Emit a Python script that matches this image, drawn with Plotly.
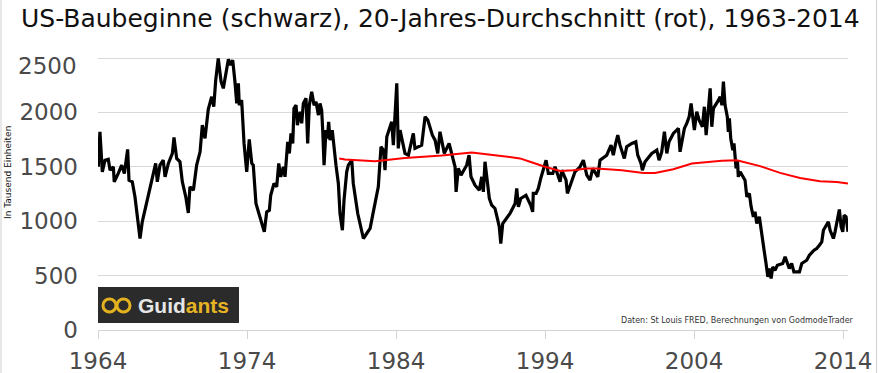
import plotly.graph_objects as go

# US housing starts (thousand units)
starts_year = [
    1964.02, 1964.13, 1964.29, 1964.47, 1964.69, 1964.81, 1965.03, 1965.09, 1965.36, 1965.59,
    1965.77, 1965.99, 1966.08, 1966.30, 1966.48, 1966.60, 1966.82, 1966.97, 1967.20, 1967.38,
    1967.64, 1967.87, 1967.98, 1968.16, 1968.38, 1968.50, 1968.72, 1968.99, 1969.10, 1969.28,
    1969.50, 1969.66, 1969.89, 1970.06, 1970.17, 1970.40, 1970.62, 1970.85, 1971.00, 1971.18,
    1971.40, 1971.63, 1971.77, 1971.90, 1972.07, 1972.26, 1972.41, 1972.75, 1972.91, 1973.04,
    1973.19, 1973.31, 1973.42, 1973.48, 1973.64, 1973.80, 1973.98, 1974.15, 1974.32, 1974.42,
    1974.60, 1974.83, 1974.99, 1975.16, 1975.32, 1975.50, 1975.59, 1975.81, 1975.99, 1976.13,
    1976.26, 1976.44, 1976.55, 1976.73, 1976.84, 1976.95, 1977.07, 1977.15, 1977.29, 1977.38,
    1977.56, 1977.67, 1977.78, 1977.96, 1978.07, 1978.18, 1978.34, 1978.50, 1978.63, 1978.79,
    1978.90, 1979.01, 1979.08, 1979.17, 1979.30, 1979.39, 1979.48, 1979.57, 1979.72, 1979.84,
    1979.97, 1980.13, 1980.24, 1980.40, 1980.51, 1980.69, 1980.80, 1981.03, 1981.13, 1981.43,
    1981.58, 1981.81, 1982.03, 1982.26, 1982.41, 1982.59, 1982.81, 1982.99, 1983.15, 1983.26,
    1983.38, 1983.71, 1983.82, 1984.05, 1984.15, 1984.27, 1984.60, 1984.83, 1985.05, 1985.16,
    1985.27, 1985.72, 1985.95, 1986.13, 1986.44, 1986.62, 1986.80, 1986.95, 1987.24, 1987.56,
    1987.96, 1988.03, 1988.18, 1988.36, 1988.74, 1988.90, 1989.03, 1989.30, 1989.59, 1989.75,
    1989.86, 1989.97, 1990.13, 1990.26, 1990.42, 1990.64, 1990.80, 1990.93, 1991.03, 1991.16,
    1991.32, 1991.47, 1991.65, 1991.99, 1992.10, 1992.21, 1992.37, 1992.72, 1993.04, 1993.17,
    1993.21, 1993.40, 1993.55, 1993.71, 1993.85, 1994.07, 1994.22, 1994.52, 1994.67, 1995.01,
    1995.12, 1995.41, 1995.50, 1995.68, 1995.86, 1996.01, 1996.35, 1996.57, 1996.80, 1997.02,
    1997.20, 1997.42, 1997.54, 1997.69, 1998.14, 1998.43, 1998.58, 1998.74, 1998.88, 1999.03,
    1999.32, 1999.48, 1999.82, 2000.09, 2000.22, 2000.44, 2000.53, 2000.71, 2001.16, 2001.50,
    2001.65, 2001.83, 2002.01, 2002.17, 2002.32, 2002.61, 2002.95, 2003.06, 2003.35, 2003.51,
    2003.67, 2003.80, 2004.02, 2004.18, 2004.34, 2004.56, 2004.69, 2004.81, 2005.08, 2005.19,
    2005.30, 2005.64, 2005.75, 2005.87, 2005.97, 2006.08, 2006.23, 2006.30, 2006.37, 2006.46,
    2006.60, 2006.68, 2006.82, 2006.91, 2006.97, 2007.09, 2007.42, 2007.54, 2007.71, 2007.83,
    2007.98, 2008.09, 2008.21, 2008.38, 2008.54, 2008.70, 2008.83, 2008.95, 2009.05, 2009.17,
    2009.28, 2009.43, 2009.59, 2009.95, 2010.11, 2010.39, 2010.55, 2010.70, 2011.07, 2011.23,
    2011.56, 2011.74, 2012.05, 2012.23, 2012.41, 2012.57, 2012.68, 2012.79, 2013.01, 2013.13,
    2013.35, 2013.46, 2013.75, 2013.87, 2013.98, 2014.07, 2014.20, 2014.33,
]
starts_value = [
    1500, 1822, 1454, 1561, 1570, 1469, 1500, 1362, 1439, 1515,
    1439, 1660, 1377, 1362, 1224, 1086, 841, 994, 1132, 1255,
    1393, 1531, 1362, 1515, 1561, 1408, 1531, 1623, 1770, 1577,
    1546, 1362, 1224, 1076, 1316, 1285, 1515, 1638, 1883, 1761,
    2028, 2144, 2052, 2297, 2497, 2282, 2221, 2488, 2435, 2481,
    2282, 2083, 2267, 2067, 2113, 1715, 1454, 1751, 1531, 1515,
    1163, 1055, 979, 902, 1086, 1101, 1239, 1347, 1316, 1531,
    1408, 1500, 1408, 1730, 1623, 1807, 1715, 2037, 2067, 1883,
    2006, 1899, 2083, 2129, 1715, 2067, 2190, 2067, 2098, 1975,
    2083, 2021, 1837, 1515, 1837, 1761, 1914, 1745, 1837, 1653,
    1515, 1347, 1071, 917, 1193, 1454, 1515, 1561, 1347, 1071,
    979, 841, 887, 933, 1040, 1163, 1316, 1684, 1653, 1469,
    1776, 1914, 1699, 2267, 1669, 1837, 1623, 1607, 1730, 1807,
    1669, 1699, 1960, 1929, 1791, 1745, 1623, 1822, 1623, 1715,
    1500, 1270, 1485, 1423, 1515, 1607, 1408, 1331, 1285, 1408,
    1270, 1546, 1362, 1209, 1147, 1117, 1025, 948, 795, 979,
    1009, 1040, 1071, 1163, 1301, 1132, 1209, 1239, 1147, 1086,
    1255, 1255, 1301, 1393, 1469, 1561, 1439, 1439, 1500, 1362,
    1469, 1377, 1255, 1331, 1408, 1454, 1500, 1561, 1423, 1377,
    1485, 1439, 1408, 1561, 1607, 1699, 1607, 1715, 1791, 1699,
    1577, 1684, 1715, 1730, 1607, 1531, 1469, 1546, 1623, 1653,
    1561, 1638, 1822, 1623, 1730, 1807, 1853, 1638, 1853, 1899,
    1960, 2083, 1837, 2006, 1929, 1868, 2052, 1791, 2221, 1868,
    2037, 2113, 2144, 2067, 2282, 2067, 1960, 1822, 1945, 1761,
    1653, 1715, 1485, 1561, 1408, 1454, 1377, 1224, 1255, 1132,
    1040, 1086, 979, 1040, 856, 733, 611, 488, 565, 473,
    580, 549, 595, 611, 672, 565, 611, 534, 534, 611,
    641, 687, 733, 749, 779, 810, 917, 948, 994, 917,
    841, 902, 1108, 948, 902, 1055, 1040, 902,
]

# 20-year average (red)
avg_year = [
    1980.19, 1980.58, 1982.59, 1984.60, 1987.07, 1989.08, 1991.20, 1992.32, 1992.99, 1993.89,
    1995.01, 1995.90, 1996.80, 1997.47, 1999.15, 2000.60, 2001.38, 2002.61, 2003.85, 2004.96,
    2005.86, 2006.87, 2008.43, 2009.77, 2011.11, 2012.45, 2013.58, 2014.33,
]
avg_value = [
    1577, 1568, 1550, 1580, 1605, 1632, 1598, 1577, 1546, 1505,
    1462, 1469, 1485, 1485, 1469, 1444, 1444, 1478, 1531, 1546,
    1555, 1561, 1506, 1444, 1398, 1368, 1360, 1347,
]

x_ticks = [1964, 1974, 1984, 1994, 2004, 2014]
y_ticks = [0, 500, 1000, 1500, 2000, 2500]

W, H = 878, 373
L, R, T, B = 98, 30, 56, 43
PW, PH = W - L - R, H - T - B
Y_TOP = 2518.4  # 2500 gridline sits 2px below the plot edge so it is drawn


def px(xp):
    return (xp - L) / PW


def py(yp):
    return (H - B - yp) / PH


fig = go.Figure()
fig.add_trace(go.Scatter(x=starts_year, y=starts_value, mode="lines",
                         line=dict(color="#000000", width=3.2), hoverinfo="skip"))
fig.add_trace(go.Scatter(x=avg_year, y=avg_value, mode="lines",
                         line=dict(color="#ff0000", width=2), hoverinfo="skip"))

font_main = "DejaVu Sans"
tick_font = dict(family=font_main, size=23, color="#4a4a4a")

# top y label sits just below its gridline (kept inside the chart) -> drawn as annotation
y_ticktext = [str(v) if v != y_ticks[-1] else "" for v in y_ticks]

fig.update_layout(
    width=W, height=H,
    margin=dict(l=L, r=R, t=T, b=B, pad=0, autoexpand=False),
    paper_bgcolor="white", plot_bgcolor="white",
    showlegend=False,
    title=dict(text="US-Baubeginne (schwarz), 20-Jahres-Durchschnitt (rot), 1963-2014",
               font=dict(family=font_main, size=25, color="#111111"),
               xref="container", yref="container", x=21 / W, xanchor="left",
               y=1 - 18 / H, yanchor="middle"),
    xaxis=dict(range=[1964, 2014.33], tickvals=x_ticks, ticktext=[str(v) for v in x_ticks],
               automargin=False,
               showgrid=False, zeroline=False, showline=True, linecolor="#d4d4d4", linewidth=1,
               ticks="outside", ticklen=8, tickcolor="#d4d4d4", tickwidth=1,
               ticklabelstandoff=2,
               tickfont=tick_font),
    yaxis=dict(range=[0, Y_TOP], tickvals=y_ticks, ticktext=y_ticktext,
               automargin=False,
               showgrid=True, gridcolor="#d9d9d9", gridwidth=1, zeroline=False,
               showline=False, ticks="", ticklabelstandoff=19,
               tickfont=tick_font),
)

shapes = [
    # Guidants logo box
    dict(type="rect", xref="paper", yref="paper", x0=px(98), x1=px(239), y0=py(323), y1=py(287),
         fillcolor="#2b2b2b", line=dict(width=0), layer="above"),
    dict(type="circle", xref="paper", yref="paper", x0=px(103), x1=px(116), y0=py(312), y1=py(299),
         line=dict(color="#e3b21e", width=3)),
    dict(type="circle", xref="paper", yref="paper", x0=px(117), x1=px(130), y0=py(312), y1=py(299),
         line=dict(color="#e3b21e", width=3)),
    # light frame edges
    dict(type="line", xref="paper", yref="paper", x0=px(1), x1=px(1), y0=py(H), y1=py(0),
         line=dict(color="#d0d0d0", width=1)),
    dict(type="line", xref="paper", yref="paper", x0=px(876.5), x1=px(876.5), y0=py(H), y1=py(0),
         line=dict(color="#d0d0d0", width=1)),
]
fig.update_layout(shapes=shapes)

fig.add_annotation(xref="paper", yref="paper", x=px(79), y=py(66), xanchor="right", yanchor="middle",
                   showarrow=False, text=str(y_ticks[-1]), font=tick_font)
fig.add_annotation(xref="paper", yref="paper", x=px(136), y=py(305), xanchor="left", yanchor="middle",
                   showarrow=False,
                   text="<b><span style='color:#e6e6e6'>Guid</span><span style='color:#e5b323'>ants</span></b>",
                   font=dict(family="Liberation Sans", size=21))
fig.add_annotation(xref="paper", yref="paper", x=px(856), y=py(320), xanchor="right", yanchor="middle",
                   showarrow=False, text="Daten: St Louis FRED, Berechnungen von GodmodeTrader",
                   font=dict(family=font_main, size=8.0, color="#333333"))
fig.add_annotation(xref="paper", yref="paper", x=px(8), y=py(173), xanchor="center", yanchor="middle",
                   showarrow=False, textangle=-90, text="In Tausend Einheiten",
                   font=dict(family=font_main, size=9, color="#111111"))

fig.write_html("out.html", config={"displayModeBar": False},
               post_script="document.body.style.margin='0';document.body.style.padding='0';")
